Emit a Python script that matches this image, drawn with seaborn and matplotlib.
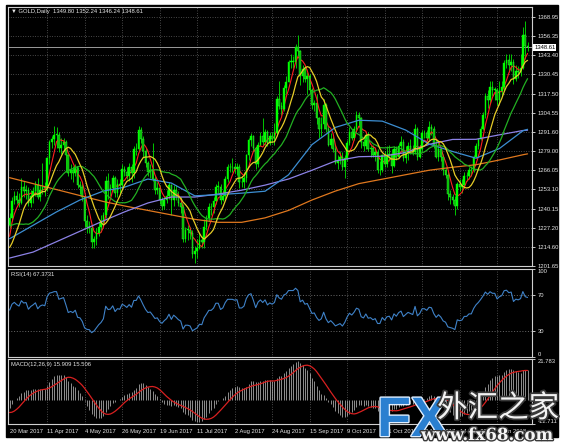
import numpy as np
import pandas as pd
import matplotlib
matplotlib.use("Agg")
import matplotlib.pyplot as plt
import matplotlib.patheffects as pe
from matplotlib.patches import Rectangle
import seaborn as sns

# closes of the sessions before the first visible bar (warm-up for MA / RSI / MACD)
pre_close = [1236, 1235, 1237, 1237, 1250, 1257, 1254, 1248, 1249, 1234, 1234,
             1226, 1216, 1209, 1202, 1202, 1204, 1199, 1220, 1226, 1229]
first_open = 1229

# GOLD daily, 20 Mar 2017 .. 26 Jan 2018 (one value per bar, grouped by month)
close = [1234, 1245, 1249, 1246, 1244, 1255, 1252, 1253, 1244, 1249,
         1252, 1256, 1248, 1253, 1255, 1254, 1274, 1285, 1287, 1290, 1290, 1281, 1283, 1285, 1276, 1264, 1266, 1264, 1268,
         1256, 1255, 1248, 1232, 1228, 1227, 1218, 1220, 1224, 1228, 1231, 1236, 1259, 1253, 1254, 1261, 1251, 1257, 1256, 1267, 1265, 1262, 1268,
         1264, 1280, 1280, 1293, 1287, 1279, 1271, 1265, 1266, 1260, 1253, 1254, 1246, 1242, 1246, 1249, 1256, 1246, 1253, 1249, 1244, 1241,
         1220, 1226, 1226, 1224, 1210, 1212, 1214, 1219, 1218, 1228, 1234, 1241, 1241, 1245, 1255, 1255, 1246, 1249, 1260, 1268, 1268,
         1268, 1267, 1268, 1258, 1258, 1261, 1276, 1286, 1289, 1281, 1270, 1283, 1289, 1285, 1292, 1284, 1289, 1287, 1291, 1314, 1309, 1307, 1321,
         1325, 1339, 1339, 1339, 1349, 1346, 1329, 1334, 1327, 1329, 1320, 1310, 1311, 1301, 1294, 1297, 1310, 1294, 1283, 1287, 1280,
         1271, 1273, 1275, 1268, 1274, 1284, 1292, 1288, 1294, 1303, 1301, 1285, 1282, 1290, 1280, 1281, 1276, 1278, 1266, 1266, 1276, 1270,
         1276, 1277, 1269, 1280, 1275, 1282, 1285, 1274, 1278, 1282, 1280, 1278, 1294, 1275, 1280, 1291, 1291, 1288, 1295, 1294, 1283, 1275,
         1280, 1275, 1266, 1263, 1250, 1248, 1246, 1242, 1257, 1255, 1256, 1262, 1262, 1266, 1266, 1275, 1282, 1287, 1294, 1303,
         1316, 1313, 1322, 1320, 1320, 1313, 1319, 1322, 1338, 1340, 1337, 1339, 1327, 1333, 1332, 1335, 1357, 1349.80, 1348.61]
high = [1237, 1248, 1252, 1252, 1251, 1261, 1259, 1256, 1255, 1253,
        1255, 1259, 1261, 1256, 1271, 1258, 1275, 1286, 1289, 1296, 1295, 1292, 1288, 1288, 1286, 1277, 1270, 1269, 1270,
        1268, 1259, 1258, 1249, 1236, 1232, 1229, 1222, 1227, 1231, 1236, 1238, 1262, 1264, 1257, 1263, 1262, 1260, 1260, 1270, 1269, 1268, 1271,
        1270, 1282, 1284, 1296, 1295, 1289, 1281, 1272, 1270, 1284, 1262, 1258, 1256, 1248, 1249, 1253, 1258, 1257, 1256, 1256, 1252, 1248,
        1243, 1228, 1229, 1228, 1226, 1215, 1220, 1224, 1222, 1233, 1236, 1244, 1244, 1248, 1257, 1259, 1257, 1253, 1262, 1270, 1271,
        1274, 1271, 1271, 1270, 1262, 1265, 1277, 1288, 1291, 1290, 1282, 1285, 1292, 1301, 1294, 1293, 1292, 1292, 1298, 1316, 1326, 1312, 1323,
        1329, 1340, 1344, 1343, 1351, 1357, 1347, 1337, 1336, 1332, 1331, 1321, 1313, 1317, 1302, 1302, 1314, 1311, 1296, 1291, 1289,
        1283, 1276, 1279, 1278, 1276, 1286, 1295, 1294, 1296, 1306, 1305, 1302, 1287, 1292, 1292, 1283, 1283, 1281, 1280, 1272, 1277, 1279,
        1282, 1283, 1280, 1282, 1282, 1284, 1289, 1287, 1282, 1285, 1287, 1283, 1297, 1295, 1283, 1293, 1293, 1293, 1299, 1297, 1296, 1287,
        1286, 1281, 1277, 1268, 1265, 1253, 1250, 1249, 1258, 1260, 1260, 1265, 1265, 1268, 1269, 1276, 1284, 1288, 1296, 1305,
        1318, 1320, 1326, 1326, 1322, 1321, 1326, 1326, 1340, 1344, 1344, 1344, 1341, 1337, 1336, 1344, 1362, 1366, 1352.24]
low = [1227, 1232, 1243, 1243, 1241, 1243, 1248, 1247, 1242, 1241,
       1244, 1249, 1247, 1245, 1250, 1249, 1252, 1270, 1281, 1283, 1281, 1278, 1277, 1279, 1265, 1262, 1260, 1258, 1262,
       1254, 1250, 1245, 1228, 1224, 1224, 1214, 1214, 1216, 1222, 1226, 1229, 1234, 1247, 1249, 1252, 1248, 1248, 1251, 1254, 1262, 1260, 1259,
       1258, 1261, 1276, 1279, 1284, 1275, 1268, 1262, 1261, 1259, 1250, 1250, 1243, 1239, 1240, 1244, 1247, 1236, 1242, 1246, 1242, 1237,
       1218, 1218, 1219, 1220, 1207, 1204, 1207, 1213, 1214, 1214, 1226, 1232, 1236, 1237, 1243, 1251, 1243, 1245, 1247, 1258, 1265,
       1265, 1264, 1263, 1254, 1255, 1254, 1258, 1273, 1282, 1279, 1267, 1268, 1282, 1283, 1283, 1282, 1283, 1284, 1283, 1289, 1307, 1303, 1306,
       1317, 1325, 1335, 1335, 1335, 1343, 1323, 1325, 1325, 1317, 1318, 1307, 1306, 1297, 1288, 1289, 1294, 1292, 1282, 1281, 1278,
       1270, 1267, 1270, 1266, 1261, 1272, 1283, 1286, 1286, 1292, 1296, 1281, 1279, 1280, 1279, 1275, 1275, 1272, 1264, 1263, 1265, 1268,
       1268, 1272, 1264, 1268, 1273, 1274, 1279, 1272, 1271, 1273, 1277, 1276, 1277, 1273, 1274, 1279, 1288, 1286, 1286, 1290, 1281, 1274,
       1272, 1272, 1263, 1261, 1246, 1243, 1243, 1236, 1240, 1252, 1251, 1254, 1259, 1260, 1262, 1265, 1274, 1280, 1286, 1293,
       1301, 1308, 1311, 1316, 1313, 1310, 1310, 1316, 1320, 1335, 1332, 1333, 1324, 1326, 1328, 1329, 1334, 1341, 1346.24]

# slow moving averages (bar index -> value)
ma_bar = [0, 10, 20, 30, 40, 49, 59, 69, 79, 89, 99, 109, 119, 129, 139, 149, 159, 169, 179, 189, 199, 209, 219, 221]
ma_blue = [1220, 1229, 1238, 1246, 1252, 1254.6, 1260.1, 1257.4, 1248.8, 1249.6, 1250.6, 1251.9, 1262.9, 1283.2,
           1294.8, 1299.6, 1299.0, 1293.0, 1283.6, 1278.6, 1274.1, 1280.6, 1292.5, 1293.5]
ma_purple = [1207, 1211, 1218, 1225, 1232, 1238, 1244, 1248, 1248, 1250, 1252.6, 1256.0, 1260.1, 1266.0,
             1272.2, 1275.1, 1275.4, 1277.9, 1283.4, 1286.7, 1286.8, 1289.8, 1292.7, 1292.9]
ma_orange = [1261, 1257, 1253, 1249, 1245, 1242, 1239, 1236, 1233, 1231, 1231, 1234, 1239, 1246,
             1252, 1257, 1260, 1263, 1266, 1268, 1269.7, 1272.9, 1276.4, 1277]

price_ticks = [1368.95, 1356.35, 1343.40, 1330.45, 1317.50, 1304.55, 1291.60, 1279.00,
               1266.05, 1253.10, 1240.15, 1227.20, 1214.60, 1201.65]
date_pos = [0, 16, 32, 48, 64, 80, 96, 112, 128, 144, 160, 176, 192, 208]
date_labels = ['20 Mar 2017', '11 Apr 2017', '4 May 2017', '26 May 2017', '19 Jun 2017', '11 Jul 2017',
               '2 Aug 2017', '24 Aug 2017', '15 Sep 2017', '9 Oct 2017', '31 Oct 2017', '22 Nov 2017',
               '14 Dec 2017', '9 Jan 2018']
rsi_last = '67.3731'
macd_text = '15.909 15.506'
macd_lo, macd_hi = -12.711, 21.783

sns.set_theme(style="dark", rc={"axes.facecolor": "black", "figure.facecolor": "white"})
plt.rcParams['font.family'] = ['Liberation Sans', 'DejaVu Sans']

W, H = 566, 442
fig = plt.figure(figsize=(W / 100, H / 100), dpi=100)
fig.patches.append(Rectangle((6 / W, 1 - 437 / H), 552 / W, 432 / H, transform=fig.transFigure,
                             color='black', zorder=-1))


def box(l, t, r, b):
    return [l / W, 1 - b / H, (r - l) / W, (b - t) / H]


ax1 = fig.add_axes(box(8, 7, 532, 266))
ax2 = fig.add_axes(box(8, 269, 532, 357))
ax3 = fig.add_axes(box(8, 359, 532, 424))

TXT = '#e6e6e6'
GRID = '#8a8a8a'
FS = 4.2

x = np.arange(len(close))
c = np.array(close, dtype=float)
o = np.array([first_open] + close[:-1], dtype=float)
hi = np.array(high, dtype=float)
lo = np.array(low, dtype=float)

s = pd.Series(pre_close + close, dtype=float)
n0 = len(pre_close)
ma5 = s.rolling(5).mean().iloc[n0:].to_numpy()
ma10 = s.rolling(10).mean().iloc[n0:].to_numpy()
ma21 = s.rolling(21, min_periods=1).mean().iloc[n0:].to_numpy()

d = s.diff()
gain = d.clip(lower=0).ewm(alpha=1 / 14, adjust=False).mean()
loss = (-d.clip(upper=0)).ewm(alpha=1 / 14, adjust=False).mean()
rsi = (100 - 100 / (1 + gain / loss)).iloc[n0:].to_numpy()

macd = s.ewm(span=12, adjust=False).mean() - s.ewm(span=26, adjust=False).mean()
sig = macd.rolling(9, min_periods=1).mean()
macd = macd.iloc[n0:].to_numpy()
sig = sig.iloc[n0:].to_numpy()

for ax in (ax1, ax2, ax3):
    ax.set_facecolor('black')
    ax.set_xlim(-0.7, 222.9)
    for sp in ax.spines.values():
        sp.set_color('#cfcfcf')
        sp.set_linewidth(0.8)
    for p in date_pos[1:]:
        ax.axvline(p, color=GRID, lw=0.5, dashes=(1, 2.5), zorder=1)
    ax.yaxis.tick_right()
    ax.tick_params(axis='y', colors=TXT, labelsize=FS, length=2, width=0.6, pad=2)
    ax.grid(False)

# --- price panel
for t in price_ticks[:-1]:
    ax1.axhline(t, color=GRID, lw=0.5, dashes=(1, 2.5), zorder=1)
ax1.axhline(c[-1], color='#b4b4b4', lw=0.6, zorder=2)

up = c >= o
body = np.maximum(np.abs(c - o), 0.35)
ax1.vlines(x, lo, hi, color='#00e600', lw=0.6, zorder=3)
ax1.bar(x[up], body[up], bottom=o[up], width=0.7, color='#00ff00', edgecolor='#00ff00', lw=0.3, zorder=4)
ax1.bar(x[~up], body[~up], bottom=c[~up], width=0.7, color='#00b400', edgecolor='#3cff3c', lw=0.3, zorder=4)

sns.lineplot(x=ma_bar, y=ma_orange, ax=ax1, color='#e0781e', lw=0.9, zorder=5)
sns.lineplot(x=ma_bar, y=ma_purple, ax=ax1, color='#8c82e6', lw=0.9, zorder=5)
sns.lineplot(x=ma_bar, y=ma_blue, ax=ax1, color='#3c8ed2', lw=0.9, zorder=5)
sns.lineplot(x=x, y=ma21, ax=ax1, color='#22b022', lw=0.9, zorder=5)
sns.lineplot(x=x, y=ma10, ax=ax1, color='#e6cc28', lw=0.9, zorder=6)
sns.lineplot(x=x, y=ma5, ax=ax1, color='#ff2020', lw=0.8, zorder=3.5)

ax1.set_ylim(1201.65, 1375.7)
ax1.set_yticks(price_ticks)
ax1.set_yticklabels([f'{v:.2f}' for v in price_ticks])
ax1.set_xticks([])
ax1.text(1.004, c[-1], f'{c[-1]:.2f}', transform=ax1.get_yaxis_transform(), fontsize=FS, color='black',
         ha='left', va='center', clip_on=False, zorder=10,
         bbox=dict(boxstyle='square,pad=0.15', fc='white', ec='none'))
ax1.text(0.006, 0.992, f'\u25bc GOLD,Daily  {o[-1]:.2f} {hi[-1]:.2f} {lo[-1]:.2f} {c[-1]:.2f}',
         transform=ax1.transAxes, fontsize=FS, color=TXT, ha='left', va='top', zorder=10,
         family=['Liberation Sans', 'DejaVu Sans'])

# --- RSI panel
for lvl in (30, 70):
    ax2.axhline(lvl, color=GRID, lw=0.5, dashes=(1.5, 2.5), zorder=1)
sns.lineplot(x=x, y=rsi, ax=ax2, color='#3f82c8', lw=0.8, zorder=3)
ax2.set_ylim(0, 100)
ax2.set_yticks([0, 30, 70, 100])
ax2.set_yticklabels(['0', '30', '70', '100'])
labs = ax2.get_yticklabels()
labs[0].set_va('bottom')
labs[-1].set_va('top')
ax2.set_xticks([])
ax2.text(0.006, 0.97, f'RSI(14) {rsi_last}', transform=ax2.transAxes, fontsize=FS, color=TXT,
         ha='left', va='top')

# --- MACD panel
ax3.vlines(x, 0, macd, color='#b4b4b4', lw=0.55, zorder=2)
sns.lineplot(x=x, y=sig, ax=ax3, color='#d82020', lw=0.9, zorder=3)
ax3.set_ylim(macd_lo, macd_hi)
ax3.set_yticks([macd_lo, macd_hi])
ax3.set_yticklabels([f'{macd_lo:.3f}', f'{macd_hi:.3f}'])
labs = ax3.get_yticklabels()
labs[0].set_va('bottom')
labs[1].set_va('top')
ax3.text(0.006, 0.96, f'MACD(12,26,9) {macd_text}', transform=ax3.transAxes, fontsize=FS, color=TXT,
         ha='left', va='top')
ax3.set_xticks(date_pos)
ax3.set_xticklabels(date_labels, ha='left')
ax3.tick_params(axis='x', colors=TXT, labelsize=FS, length=2, width=0.6, pad=1.5)
for ax in (ax1, ax2, ax3):
    ax.set_xlabel('')
    ax.set_ylabel('')

# --- watermark
fig.text(377 / W, 1 - 436 / H, 'FX', fontsize=40, fontweight='bold', color='#2a7fd0',
         family=['Liberation Sans Narrow', 'Liberation Sans', 'DejaVu Sans'],
         path_effects=[pe.withStroke(linewidth=2, foreground='#dfeeff')], zorder=20)
fig.text(437 / W, 1 - 417 / H, '外汇之家', fontsize=22, color='#f2f2f2',
         family=['Noto Sans CJK SC', 'DejaVu Sans'],
         path_effects=[pe.withStroke(linewidth=2.5, foreground='#3a3a3a')], zorder=20)
fig.text(421 / W, 1 - 440 / H, 'www.fx68.com', fontsize=12, fontweight='bold', color='#f5f5f5',
         family=['DejaVu Serif'],
         path_effects=[pe.withStroke(linewidth=2, foreground='#3a3a3a')], zorder=20)

fig.savefig('out.png', dpi=100, facecolor='white')
